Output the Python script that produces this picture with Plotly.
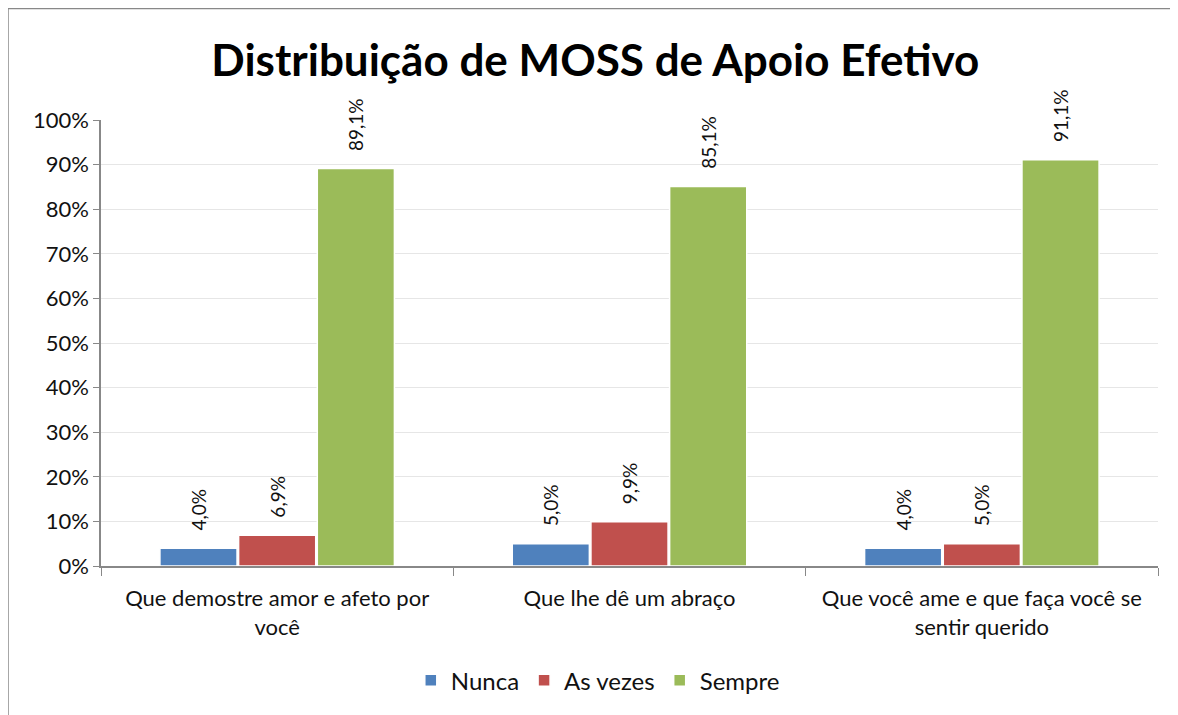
import plotly.graph_objects as go

categories = [
    "Que demostre amor e afeto por<br>você",
    "Que lhe dê um abraço",
    "Que você ame e que faça você se<br>sentir querido",
]
nunca = [4.0, 5.0, 4.0]
as_vezes = [6.9, 9.9, 5.0]
sempre = [89.1, 85.1, 91.1]

NUNCA_COLOR = "#4F81BD"
VEZES_COLOR = "#C0504D"
SEMPRE_COLOR = "#9BBB59"
FONT = "Lato"


def pct_text(vals):
    # leading nbsp gives the gap between bar top and the rotated label
    return ["\u00a0\u00a0\u00a0" + f"{v:.1f}%".replace(".", ",") for v in vals]


fig = go.Figure()
for name, vals, color in [
    ("Nunca", nunca, NUNCA_COLOR),
    ("As vezes", as_vezes, VEZES_COLOR),
    ("Sempre", sempre, SEMPRE_COLOR),
]:
    fig.add_trace(
        go.Bar(
            x=categories,
            y=vals,
            name=name,
            marker=dict(color=color, line=dict(color="white", width=1.5)),
            text=pct_text(vals),
            textposition="outside",
            textangle=-90,
            textfont=dict(size=19, color="#111"),
            cliponaxis=False,
        )
    )

# page has an 8px body margin, so the figure is sized 8px smaller
fig.update_layout(
    width=1170,
    height=707,
    paper_bgcolor="white",
    plot_bgcolor="white",
    font=dict(family=FONT, size=22, color="#111"),
    title=dict(
        text="<b>Distribuição de MOSS de Apoio Efetivo</b>",
        x=0.502,
        xanchor="center",
        y=0.925,
        yanchor="middle",
        font=dict(size=44, color="black"),
    ),
    margin=dict(l=93, r=20, t=112, b=147),
    barmode="group",
    bargap=0.33,
    bargroupgap=0.02,
    showlegend=True,
    legend=dict(
        orientation="h",
        x=0.47,
        xanchor="center",
        y=-0.257,
        yanchor="middle",
        font=dict(size=24),
        itemwidth=30,
    ),
    xaxis=dict(
        showline=True,
        linecolor="#888",
        linewidth=1.5,
        ticks="outside",
        tickson="boundaries",
        ticklen=8,
        tickcolor="#888",
        tickfont=dict(size=22),
        ticklabelstandoff=12,
    ),
    yaxis=dict(
        range=[0, 100],
        dtick=10,
        ticksuffix="%",
        showline=True,
        linecolor="#888",
        linewidth=1.5,
        ticks="outside",
        ticklen=6,
        tickcolor="#888",
        gridcolor="#E6E6E6",
        tickfont=dict(size=22),
        zeroline=False,
    ),
    shapes=[
        dict(
            type="rect",
            xref="paper",
            yref="paper",
            x0=-0.088,
            x1=1.017,
            y0=-0.34,
            y1=1.25,
            line=dict(color="#888", width=1.5),
            layer="below",
        )
    ],
)

fig.write_html("out.html")
